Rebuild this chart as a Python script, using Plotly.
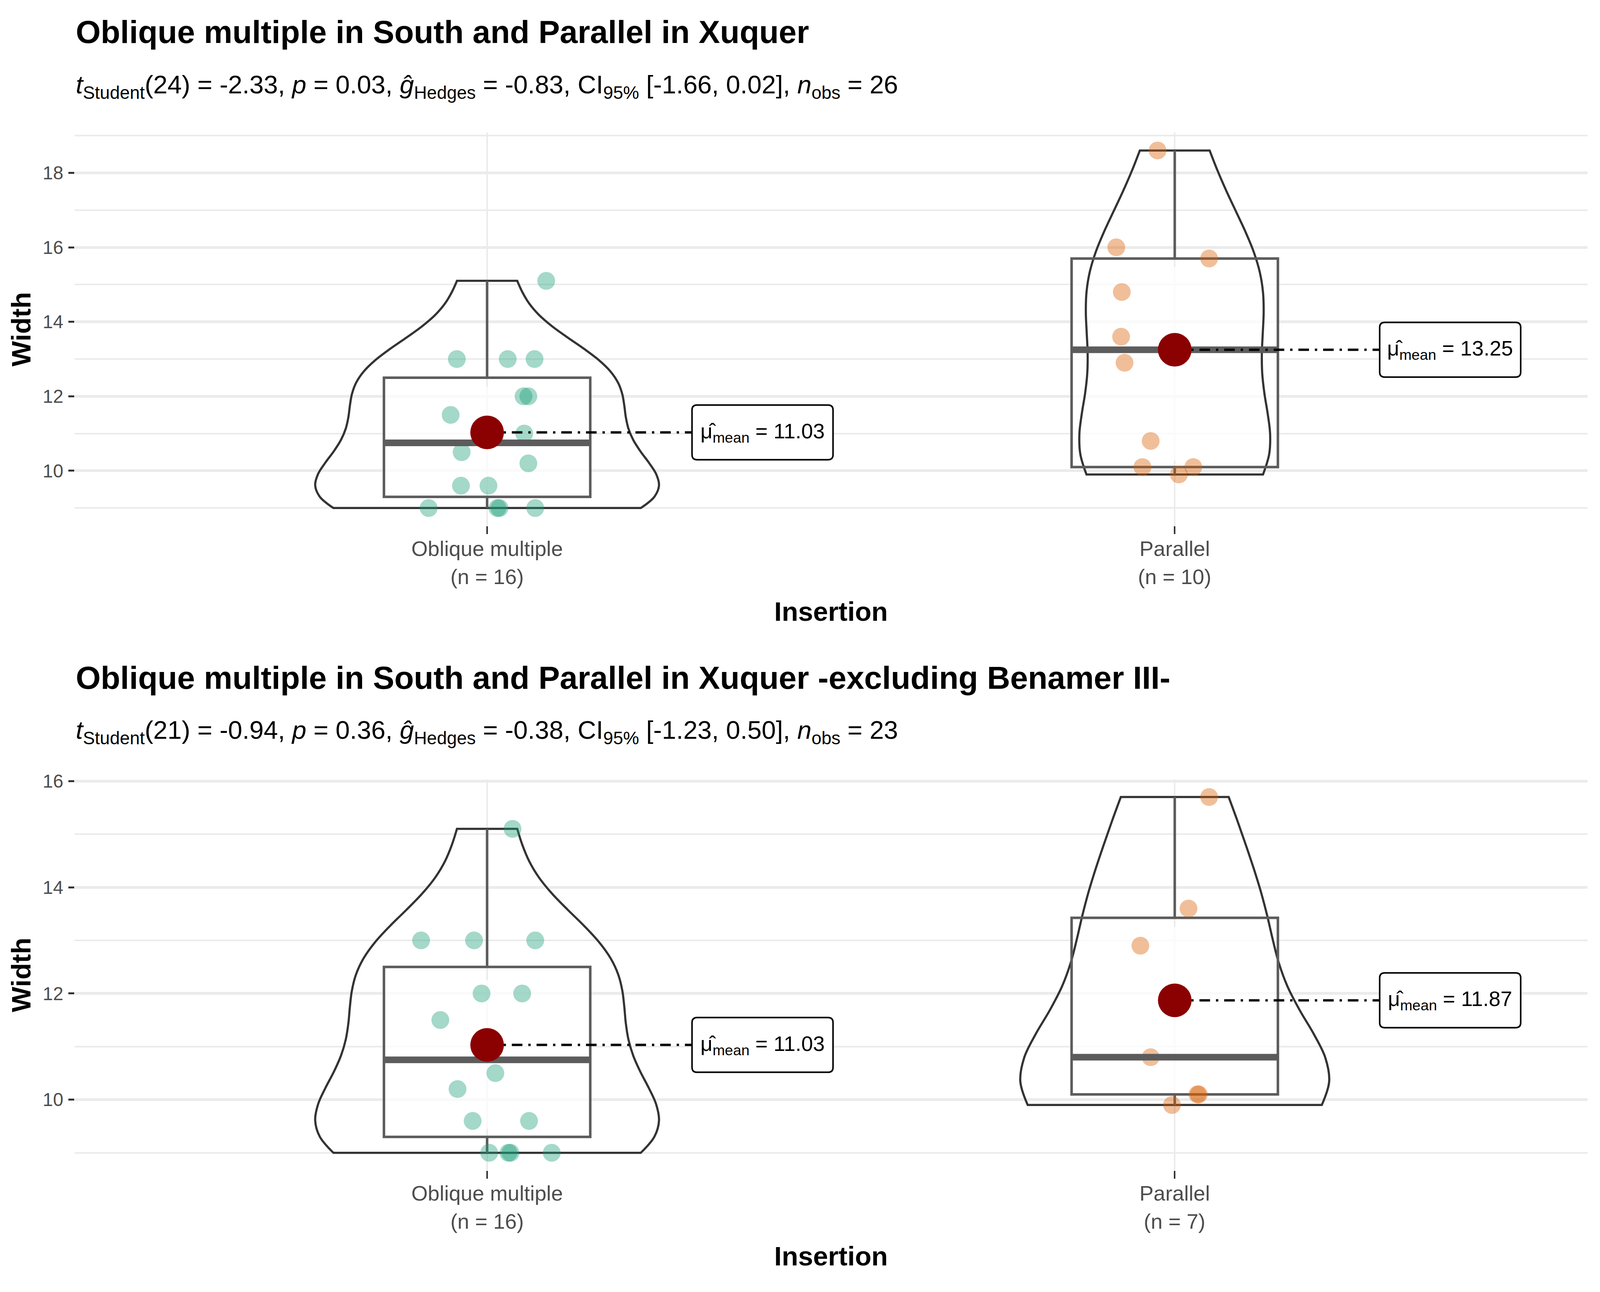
import numpy as np
import plotly.graph_objects as go

# The photographed page is 4096 CSS px wide; the reference is 5433x3307.
# Horizontal geometry is mapped with SX, vertical with SY / OFFY
# (values calibrated against the returned photograph).
VIEW_W, VIEW_H = 4096, 3307
REF_W = 5433
SX = VIEW_W / REF_W
SY = 1.0074
OFFX = 8                     # default <body> margin
OFFY = 29
F = 0.82                     # font scale
M = 0.86                     # marker scale
FW = VIEW_W - 16
FH = VIEW_H - 16
FONT = "Liberation Sans, Arial, sans-serif"

# ---------------- data ----------------
categories = ["Oblique multiple", "Parallel"]

top_oblique = [15.1, 13, 13, 13, 12, 12, 11.5, 11, 10.5, 10.2, 9.6, 9.6, 9, 9, 9, 9]
top_oblique_jitter = [0.086, -0.044, 0.030, 0.069, 0.053, 0.060, -0.053, 0.054,
                      -0.037, 0.060, -0.038, 0.002, -0.085, 0.015, 0.018, 0.070]
top_parallel = [18.6, 16, 15.7, 14.8, 13.6, 12.9, 10.8, 10.1, 10.1, 9.9]
top_parallel_jitter = [-0.025, -0.085, 0.050, -0.077, -0.078, -0.073, -0.035, -0.047, 0.027, 0.006]

bot_oblique = [15.1, 13, 13, 13, 12, 12, 11.5, 11, 10.5, 10.2, 9.6, 9.6, 9, 9, 9, 9]
bot_oblique_jitter = [0.037, -0.096, -0.019, 0.070, -0.008, 0.051, -0.068, 0.0,
                      0.012, -0.043, -0.021, 0.061, 0.003, 0.031, 0.034, 0.094]
bot_parallel = [15.7, 13.6, 12.9, 10.8, 10.1, 10.1, 9.9]
bot_parallel_jitter = [0.050, 0.020, -0.050, -0.035, 0.033, 0.035, -0.004]

titles = ["Oblique multiple in South and Parallel in Xuquer",
          "Oblique multiple in South and Parallel in Xuquer -excluding Benamer III-"]
subtitles = [
    "<i>t</i><sub>Student</sub>(24) = -2.33, <i>p</i> = 0.03, <i>\u011d</i><sub>Hedges</sub> = -0.83, "
    "CI<sub>95%</sub> [-1.66, 0.02], <i>n</i><sub>obs</sub> = 26",
    "<i>t</i><sub>Student</sub>(21) = -0.94, <i>p</i> = 0.36, <i>\u011d</i><sub>Hedges</sub> = -0.38, "
    "CI<sub>95%</sub> [-1.23, 0.50], <i>n</i><sub>obs</sub> = 23",
]
x_title = "Insertion"
y_title = "Width"

colors = ["#1B9E77", "#D95F02"]

# reference-pixel geometry of each panel
panels = [
    dict(groups=[top_oblique, top_parallel], jit=[top_oblique_jitter, top_parallel_jitter],
         xa="x", ya="y", top_px=338, bot_px=1344, title_px=80, sub_px=220, xt_px=1563),
    dict(groups=[bot_oblique, bot_parallel], jit=[bot_oblique_jitter, bot_parallel_jitter],
         xa="x2", ya="y2", top_px=1992, bot_px=2993, title_px=1732, sub_px=1871, xt_px=3212),
]
PLOT_L, PLOT_R = 253, 5390
X_RANGE = [0.4, 2.6]
LABEL_W, LABEL_H, LABEL_R = 361, 141, 13     # label box size in CSS px


def paper_x(dx):
    return (dx * SX - OFFX) / FW


def paper_y(dy):
    return 1 - (dy * SY - OFFY) / FH


def nrd0(v):
    v = np.asarray(v, float)
    sd = v.std(ddof=1)
    q75, q25 = np.percentile(v, [75, 25])
    lo = min(sd, (q75 - q25) / 1.34)
    return 0.9 * lo * len(v) ** (-0.2)


def max_density(v, bw):
    v = np.asarray(v, float)
    grid = np.linspace(v.min(), v.max(), 512)
    d = np.exp(-0.5 * ((grid[:, None] - v[None, :]) / bw) ** 2).sum(1)
    return (d / (len(v) * bw * np.sqrt(2 * np.pi))).max()


def rounded_box(x0, x1, y0, y1, rx, ry):
    return (f"M {x0 + rx},{y0} L {x1 - rx},{y0} Q {x1},{y0} {x1},{y0 + ry} "
            f"L {x1},{y1 - ry} Q {x1},{y1} {x1 - rx},{y1} L {x0 + rx},{y1} "
            f"Q {x0},{y1} {x0},{y1 - ry} L {x0},{y0 + ry} Q {x0},{y0} {x0 + rx},{y0} Z")


fig = go.Figure()
annotations = []
shapes = []
layout_axes = {}

for pi, p in enumerate(panels):
    xa, ya = p["xa"], p["ya"]
    allv = np.concatenate([np.asarray(g, float) for g in p["groups"]])
    lo, hi = allv.min(), allv.max()
    pad = 0.05 * (hi - lo)
    y_range = [lo - pad, hi + pad]
    ux = (X_RANGE[1] - X_RANGE[0]) / ((PLOT_R - PLOT_L) * SX)          # data units per px
    uy = (y_range[1] - y_range[0]) / ((p["bot_px"] - p["top_px"]) * SY)

    bws = [nrd0(g) for g in p["groups"]]
    mds = [max_density(g, b) for g, b in zip(p["groups"], bws)]
    # violins, area-scaled like ggplot (scale = "area")
    for gi, vals in enumerate(p["groups"]):
        pos = gi + 1
        fig.add_trace(go.Violin(
            y=vals, x0=pos, xaxis=xa, yaxis=ya, width=0.5 * mds[gi] / max(mds),
            spanmode="hard", bandwidth=bws[gi], scalemode="width", scalegroup=f"p{pi}g{gi}",
            points=False, box_visible=False, meanline_visible=False,
            line=dict(color="#333333", width=5.5), fillcolor="rgba(255,255,255,0)",
            showlegend=False, hoverinfo="skip"))
    # boxes
    for gi, vals in enumerate(p["groups"]):
        pos = gi + 1
        q1, q3 = np.percentile(np.asarray(vals, float), [25, 75])
        # translucent white box fill, between the grid and the marks
        shapes.append(dict(type="rect", xref=xa, yref=ya, x0=pos - 0.15, x1=pos + 0.15,
                           y0=q1, y1=q3, layer="between", line=dict(width=0),
                           fillcolor="rgba(255,255,255,0.75)"))
        fig.add_trace(go.Box(
            y=vals, x0=pos, xaxis=xa, yaxis=ya, width=0.3, boxpoints=False,
            quartilemethod="linear", whiskerwidth=0,
            line=dict(color="#5C5C5C", width=6.5), fillcolor="rgba(255,255,255,0)",
            showlegend=False, hoverinfo="skip"))
    for gi, vals in enumerate(p["groups"]):
        pos = gi + 1
        arr = np.asarray(vals, float)
        med = float(np.median(arr))
        mean = float(arr.mean())
        lab_x0 = pos + 0.298
        # jittered points
        fig.add_trace(go.Scatter(
            x=[pos + j for j in p["jit"][gi]], y=vals, mode="markers", xaxis=xa, yaxis=ya,
            marker=dict(size=53 * M, color=colors[gi], opacity=0.4, line=dict(width=0)),
            showlegend=False, hoverinfo="skip"))
        # thick median
        fig.add_trace(go.Scatter(
            x=[pos - 0.149, pos + 0.149], y=[med, med], mode="lines",
            xaxis=xa, yaxis=ya, line=dict(color="#5C5C5C", width=17),
            showlegend=False, hoverinfo="skip"))
        # dash-dot connector
        fig.add_trace(go.Scatter(
            x=[pos, lab_x0], y=[mean, mean], mode="lines", xaxis=xa, yaxis=ya,
            line=dict(color="black", width=6,
                      dash=f"{36 * SX:.1f}px,{20 * SX:.1f}px,{8 * SX:.1f}px,{20 * SX:.1f}px"),
            showlegend=False, hoverinfo="skip"))
        # mean point
        fig.add_trace(go.Scatter(
            x=[pos], y=[mean], mode="markers", xaxis=xa, yaxis=ya,
            marker=dict(size=100 * M, color="#8B0000", line=dict(width=0)),
            showlegend=False, hoverinfo="skip"))
        # rounded label box + label text
        lab_x1 = lab_x0 + LABEL_W * ux
        lab_y0 = mean - LABEL_H / 2 * uy
        lab_y1 = mean + LABEL_H / 2 * uy
        shapes.append(dict(type="path", xref=xa, yref=ya, layer="above",
                           path=rounded_box(lab_x0, lab_x1, lab_y0, lab_y1,
                                            LABEL_R * ux, LABEL_R * uy),
                           fillcolor="white", line=dict(color="black", width=4)))
        annotations.append(dict(
            x=(lab_x0 + lab_x1) / 2, y=mean, xref=xa, yref=ya, xanchor="center",
            yanchor="middle", text=f"\u03bc\u0302<sub>mean</sub> = {mean:.2f}",
            showarrow=False, font=dict(family=FONT, size=54, color="black")))
        # category tick labels (two lines, ggplot line spacing)
        annotations.append(dict(
            x=pos, y=paper_y(p["bot_px"] + 58), xref=xa, yref="paper",
            xanchor="center", yanchor="middle", text=categories[gi], showarrow=False,
            font=dict(family=FONT, size=66 * F, color="#4D4D4D")))
        annotations.append(dict(
            x=pos, y=paper_y(p["bot_px"] + 130), xref=xa, yref="paper",
            xanchor="center", yanchor="middle", text=f"(n = {len(vals)})", showarrow=False,
            font=dict(family=FONT, size=66 * F, color="#4D4D4D")))

    sfx = "" if pi == 0 else str(pi + 1)
    layout_axes["xaxis" + sfx] = dict(
        domain=[paper_x(PLOT_L), paper_x(PLOT_R)], range=X_RANGE, anchor=ya,
        tickmode="array", tickvals=[1, 2], showticklabels=False,
        showgrid=True, gridcolor="#EBEBEB", gridwidth=5 * SX, zeroline=False, showline=False,
        ticks="outside", ticklen=20, tickwidth=5 * SX, tickcolor="#333333")
    layout_axes["yaxis" + sfx] = dict(
        domain=[paper_y(p["bot_px"]), paper_y(p["top_px"])], range=y_range,
        anchor=xa, dtick=2, tick0=0, showgrid=True, gridcolor="#EBEBEB", gridwidth=7,
        zeroline=False, showline=False,
        minor=dict(dtick=1, tick0=0, showgrid=True, gridcolor="#EBEBEB", gridwidth=3.5),
        ticks="outside", ticklen=20 * SX, tickwidth=5, tickcolor="#333333",
        tickfont=dict(family=FONT, size=58 * F, color="#4D4D4D"), ticklabelstandoff=3)

    annotations.append(dict(
        x=paper_x(255), y=paper_y(p["title_px"]), xref="paper", yref="paper", xanchor="left",
        yanchor="middle", text=f"<b>{titles[pi]}</b>", showarrow=False,
        font=dict(family=FONT, size=100 * F, color="black")))
    annotations.append(dict(
        x=paper_x(255), y=paper_y(p["sub_px"]), xref="paper", yref="paper", xanchor="left",
        yanchor="middle", text=subtitles[pi], showarrow=False,
        font=dict(family=FONT, size=80 * F, color="black")))
    annotations.append(dict(
        x=paper_x((PLOT_L + PLOT_R) / 2), y=paper_y(p["xt_px"]), xref="paper", yref="paper",
        xanchor="center", yanchor="middle", text=f"<b>{x_title}</b>", showarrow=False,
        font=dict(family=FONT, size=84 * F, color="black")))
    annotations.append(dict(
        x=paper_x(72), y=paper_y((p["top_px"] + p["bot_px"]) / 2), xref="paper", yref="paper",
        xanchor="center", yanchor="middle", text=f"<b>{y_title}</b>", showarrow=False,
        textangle=-90, font=dict(family=FONT, size=84 * F, color="black")))

fig.update_layout(
    width=FW, height=FH, margin=dict(l=0, r=0, t=0, b=0, pad=0),
    paper_bgcolor="white", plot_bgcolor="white", showlegend=False,
    annotations=annotations, shapes=shapes, **layout_axes)

fig.write_html("out.html")
